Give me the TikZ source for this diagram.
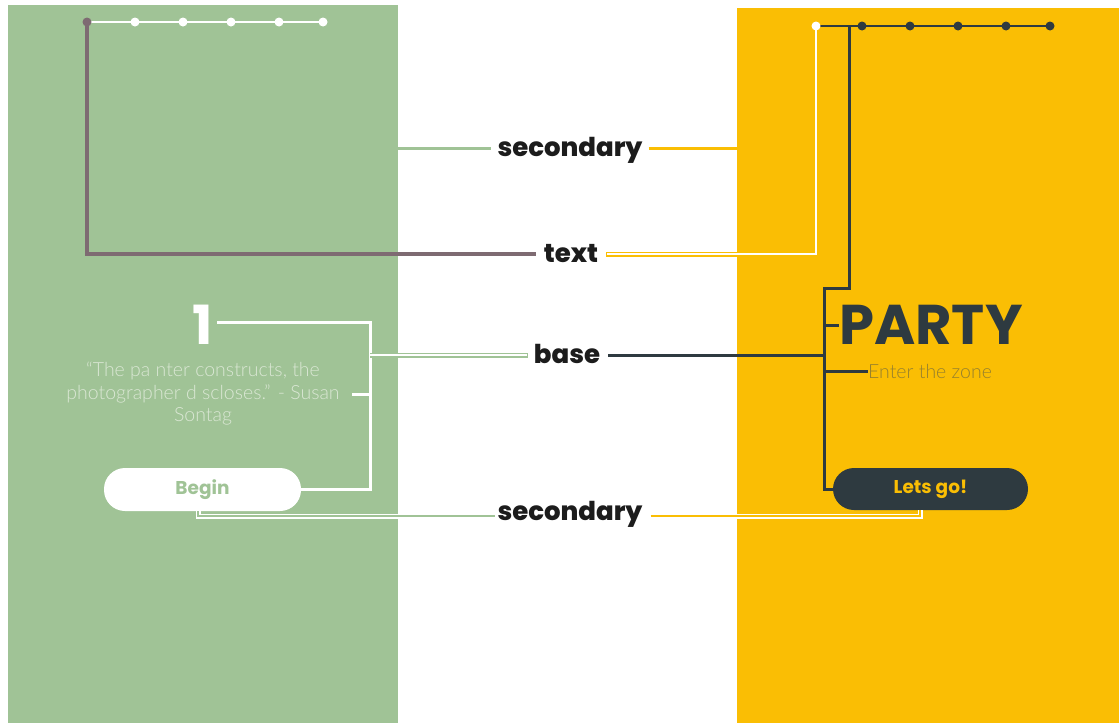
\documentclass[tikz,border=0pt]{standalone}
\usepackage{fontspec}
\newfontfamily\popfont{Poppins}
\newfontfamily\popheavy{Poppins ExtraBold}
\newfontfamily\thinfont{Lato Light}
\definecolor{sage}{RGB}{160,195,150}
\definecolor{amber}{RGB}{250,190,4}
\definecolor{slate}{RGB}{46,58,64}
\definecolor{mauve}{RGB}{126,107,114}
\definecolor{ink}{RGB}{28,28,28}
\definecolor{quote}{RGB}{218,231,212}
\definecolor{zone}{RGB}{150,128,45}
\tikzset{
  x=1pt, y=-1pt,
  tag/.style={font=\popheavy\fontsize{26}{26}\selectfont, text=ink, inner sep=0pt, anchor=base},
  dotw/.style={circle, fill=white, inner sep=0pt, minimum size=9pt},
  dotd/.style={circle, fill=slate, inner sep=0pt, minimum size=9pt},
  wire/.style={line width=3pt, line cap=butt},
  pill/.style={rounded corners=21pt, inner sep=0pt, minimum width=197pt, minimum height=43pt,
    font=\popfont\bfseries\fontsize{18.5}{18}\selectfont},
}
\begin{document}
\begin{tikzpicture}
\useasboundingbox (0,0) rectangle (1119,723);
% panels
\fill[sage] (8,5) rectangle (398,723);
\fill[amber] (737,8) rectangle (1119,723);

% left panel: dotted rule
\coordinate (ld0) at (87,22);
\coordinate (ld5) at (323,22);
\draw[white, line width=2.5pt] (ld0) -- (ld5);
\foreach \i/\x in {1/135,2/183,3/231,4/279,5/323} \node[dotw] (ld\i) at (\x,22) {};

% right panel: dotted rule
\coordinate (rd0) at (816,26);
\coordinate (rd5) at (1050,26);
\draw[slate, line width=2.5pt] (rd0) -- (rd5);
\foreach \i/\x in {1/862,2/910,3/958,4/1006,5/1050} \node[dotd] (rd\i) at (\x,26) {};

% left panel content
\node[font=\popfont\bfseries\fontsize{54}{54}\selectfont, text=white, inner sep=0pt] (one) at (203,325) {1};
\node[font=\thinfont\fontsize{19.5}{22.5}\selectfont, text=quote, align=center, inner sep=0pt] (qt) at (203,394)
  {“The pa nter constructs, the\\photographer d scloses.” - Susan\\Sontag};
\node[pill, fill=white, text=sage] (begin) at (202.5,489.5) {Begin};

% right panel content
\node[font=\popfont\bfseries\fontsize{56}{56}\selectfont, text=slate, inner sep=0pt, anchor=west] (party) at (839,325) {PARTY};
\node[font=\thinfont\fontsize{19.5}{19}\selectfont, text=zone, inner sep=0pt, anchor=west] (zone) at (868,371) {Enter the zone};
\node[pill, fill=slate, text=amber, minimum width=195pt, minimum height=42pt] (go) at (930.5,489) {Lets go!};

% labels
\node[tag] (sec1) at (570,156) {secondary};
\node[tag] (txt) at (571,262) {text};
\node[tag] (base) at (567,363) {base};
\node[tag] (sec2) at (570,520) {secondary};

% secondary (top)
\coordinate (s1l) at (398,148);
\coordinate (s1r) at (737,148);
\draw[wire, sage] (s1l) -- ([xshift=-6pt]sec1.west |- s1l);
\draw[wire, amber] ([xshift=6pt]sec1.east |- s1r) -- (s1r);

% text
\draw[mauve, line width=4pt] (ld0) |- ([xshift=-8pt]txt.west |- 0,254);
\node[circle, fill=mauve, inner sep=0pt, minimum size=9pt] at (ld0) {};
\draw[amber, line width=5pt] ([xshift=8pt]txt.east |- 0,254) -| (rd0);
\draw[white, line width=2.2pt] ([xshift=8.5pt]txt.east |- 0,254) -| (rd0);
\node[dotw] at (rd0) {};

% base (right)
\coordinate (rb) at (824,288);
\draw[slate, wire] (849,26) |- (rb) |- ([xshift=3pt]go.west);
\draw[slate, wire] (rb |- party.west) -- (party.west);
\draw[slate, wire] (rb |- zone.west) -- (zone.west);
\draw[slate, wire] ([xshift=8pt]base.east |- 0,355) -- (rb |- 0,355);

% base (left)
\coordinate (lb) at (370,322);
\draw[white, wire] ([xshift=4pt]one.east |- lb) -- (lb) |- (begin.east);
\draw[white, wire] (352,394) -- (lb |- 0,394);
\draw[sage, line width=5pt] (lb |- 0,355) -- ([xshift=-6pt]base.west |- 0,355);
\draw[white, line width=2.2pt] (lb |- 0,355) -- ([xshift=-6.5pt]base.west |- 0,355);

% secondary (bottom)
\coordinate (b2) at (198,516);
\draw[white, line width=5pt] ([xshift=-4.5pt]begin.south) |- ([xshift=-2pt]sec2.west |- b2);
\draw[sage, line width=2.5pt] ([xshift=-4.5pt]begin.south) |- ([xshift=-2pt]sec2.west |- b2);
\draw[white, line width=5pt] ([xshift=8pt]sec2.east |- b2) -| ([xshift=-10.5pt]go.south);
\draw[amber, line width=2.5pt] ([xshift=8pt]sec2.east |- b2) -| ([xshift=-10.5pt]go.south);
\end{tikzpicture}
\end{document}
